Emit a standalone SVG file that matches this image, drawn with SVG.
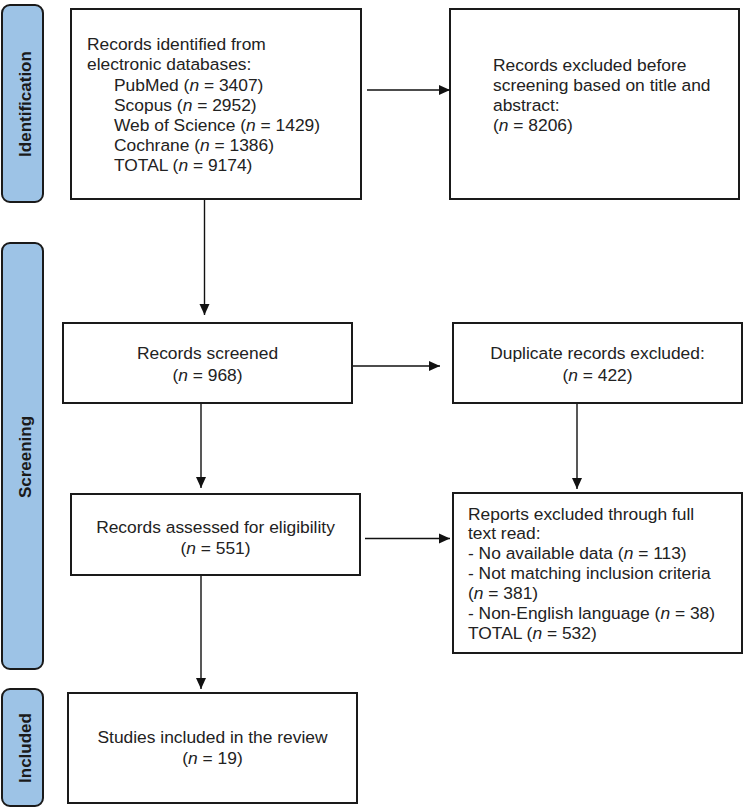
<svg xmlns="http://www.w3.org/2000/svg" width="750" height="812" viewBox="0 0 750 812">
<defs>
<marker id="arr" markerWidth="11" markerHeight="11" refX="11" refY="5.5" orient="auto" markerUnits="userSpaceOnUse">
<path d="M0,0.5 L11,5.5 L0,10.5 Z" fill="#111"/>
</marker>
<style>
.tab{fill:#9dc3e6;stroke:#1a1a1a;stroke-width:2}
.tabt{font-family:"Liberation Sans",Arial,sans-serif;font-weight:bold;font-size:17px;fill:#1a1a1a;text-anchor:middle}
.box{fill:#fff;stroke:#1a1a1a;stroke-width:2}
.t{font-family:"Liberation Sans",Arial,sans-serif;font-size:17.4px;fill:#222}
.c{text-anchor:middle}
.i{font-style:italic}
.ln{stroke:#111;stroke-width:1.4;fill:none;marker-end:url(#arr)}
</style>
</defs>
<rect width="750" height="812" fill="#fff"/>
<g id="tab-identification">
<rect class="tab" x="2" y="5" width="41" height="197" rx="8"/>
<text class="tabt" transform="translate(31,104) rotate(-90)">Identification</text>
</g>
<g id="tab-screening">
<rect class="tab" x="2" y="243" width="41" height="426" rx="8"/>
<text class="tabt" transform="translate(31,457) rotate(-90)">Screening</text>
</g>
<g id="tab-included">
<rect class="tab" x="2" y="689" width="41" height="117" rx="8"/>
<text class="tabt" transform="translate(31,748) rotate(-90)">Included</text>
</g>
<g id="identified">
<rect class="box" x="71" y="9" width="290" height="190"/>
<text class="t" x="87" y="50">Records identified from</text>
<text class="t" x="87" y="70">electronic databases:</text>
<text class="t" x="114" y="90.5">PubMed (<tspan class="i">n</tspan> = 3407)</text>
<text class="t" x="114" y="110.5">Scopus (<tspan class="i">n</tspan> = 2952)</text>
<text class="t" x="114" y="130.5">Web of Science (<tspan class="i">n</tspan> = 1429)</text>
<text class="t" x="114" y="150.5">Cochrane (<tspan class="i">n</tspan> = 1386)</text>
<text class="t" x="114" y="170.5">TOTAL (<tspan class="i">n</tspan> = 9174)</text>
</g>
<g id="excluded-before">
<rect class="box" x="450" y="9" width="289" height="190"/>
<text class="t" x="493" y="70.5">Records excluded before</text>
<text class="t" x="493" y="90.5">screening based on title and</text>
<text class="t" x="493" y="110.5">abstract:</text>
<text class="t" x="493" y="130.5">(<tspan class="i">n</tspan> = 8206)</text>
</g>
<g id="screened">
<rect class="box" x="63" y="323" width="289" height="80"/>
<text class="t c" x="207.5" y="359">Records screened</text>
<text class="t c" x="207.5" y="380.5">(<tspan class="i">n</tspan> = 968)</text>
</g>
<g id="duplicates">
<rect class="box" x="453" y="323" width="289" height="80"/>
<text class="t c" x="597.5" y="359">Duplicate records excluded:</text>
<text class="t c" x="597.5" y="380.5">(<tspan class="i">n</tspan> = 422)</text>
</g>
<g id="assessed">
<rect class="box" x="71" y="494" width="289" height="81"/>
<text class="t c" x="215.5" y="532.5">Records assessed for eligibility</text>
<text class="t c" x="215.5" y="553.5">(<tspan class="i">n</tspan> = 551)</text>
</g>
<g id="reports-excluded">
<rect class="box" x="453" y="493" width="289" height="160"/>
<text class="t" x="468" y="520">Reports excluded through full</text>
<text class="t" x="468" y="539">text read:</text>
<text class="t" x="468" y="559">- No available data (<tspan class="i">n</tspan> = 113)</text>
<text class="t" x="468" y="579">- Not matching inclusion criteria</text>
<text class="t" x="468" y="599">(<tspan class="i">n</tspan> = 381)</text>
<text class="t" x="468" y="619">- Non-English language (<tspan class="i">n</tspan> = 38)</text>
<text class="t" x="468" y="639">TOTAL (<tspan class="i">n</tspan> = 532)</text>
</g>
<g id="included">
<rect class="box" x="68" y="693" width="289" height="110"/>
<text class="t c" x="212.5" y="743">Studies included in the review</text>
<text class="t c" x="212.5" y="764">(<tspan class="i">n</tspan> = 19)</text>
</g>
<g id="connectors">
<line class="ln" x1="367" y1="90" x2="450" y2="90"/>
<line class="ln" x1="204.5" y1="200" x2="204.5" y2="315"/>
<line class="ln" x1="353" y1="366" x2="440" y2="366"/>
<line class="ln" x1="201" y1="404" x2="201" y2="488"/>
<line class="ln" x1="577" y1="404" x2="577" y2="489"/>
<line class="ln" x1="365" y1="538.5" x2="450" y2="538.5"/>
<line class="ln" x1="201" y1="576" x2="201" y2="689"/>
</g>
</svg>
